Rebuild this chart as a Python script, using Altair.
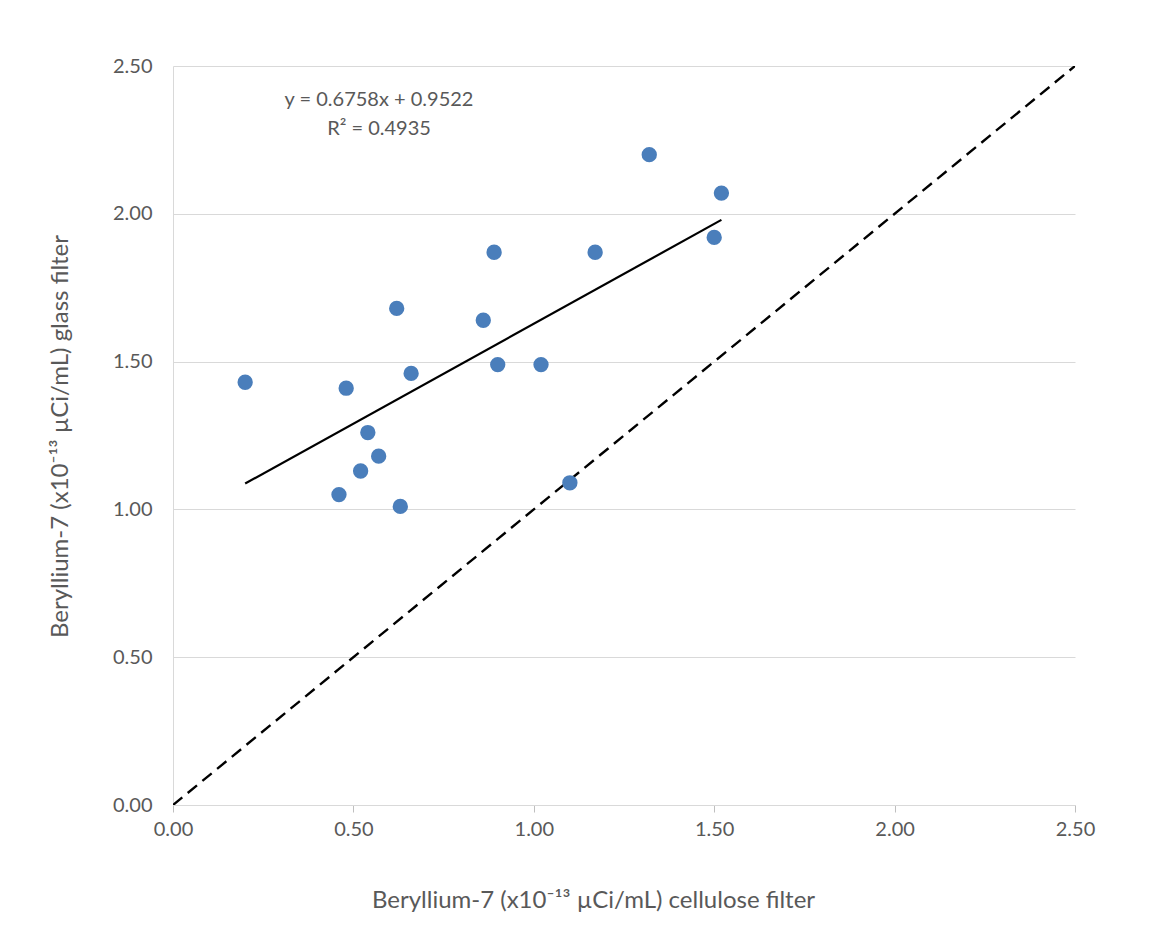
import altair as alt
import pandas as pd

# Scatter data (x10^-13 µCi/mL)
cellulose = [0.20, 0.48, 0.46, 0.52, 0.54, 0.57, 0.62, 0.63, 0.66, 0.86, 0.89, 0.90, 1.02, 1.10, 1.17, 1.32, 1.50, 1.52]
glass     = [1.43, 1.41, 1.05, 1.13, 1.26, 1.18, 1.68, 1.01, 1.46, 1.64, 1.87, 1.49, 1.49, 1.09, 1.87, 2.20, 1.92, 2.07]

slope = 0.6758
intercept = 0.9522
trend_x = [min(cellulose), max(cellulose)]
trend_y = [slope * v + intercept for v in trend_x]

identity_x = [0.0, 2.5]
identity_y = [0.0, 2.5]

eq_lines = ["y = 0.6758x + 0.9522", "R² = 0.4935"]
eq_x = [0.571, 0.571]
eq_y = [2.385, 2.287]

ticks = [0.0, 0.5, 1.0, 1.5, 2.0, 2.5]

pts = pd.DataFrame({"x": cellulose, "y": glass})
trend = pd.DataFrame({"x": trend_x, "y": trend_y})
ident = pd.DataFrame({"x": identity_x, "y": identity_y})
eq = pd.DataFrame({"x": eq_x, "y": eq_y, "t": eq_lines})

FONT = "Lato"
GRAY = "#595959"

xscale = alt.Scale(domain=[0, 2.5], nice=False, zero=True)
yscale = alt.Scale(domain=[0, 2.5], nice=False, zero=True)

xaxis = alt.Axis(
    values=ticks, format=".2f", grid=False, labelFlush=False,
    title="Beryllium-7 (x10⁻¹³ µCi/mL) cellulose filter",
    titleX=420, titleY=95, titleBaseline="middle", titleAnchor="start", titleAlign="center",
    labelPadding=7, tickSize=7, tickColor="#bfbfbf", domainColor="#d9d9d9",
)
yaxis = alt.Axis(
    values=ticks, format=".2f", grid=True, gridColor="#d9d9d9", labelFlush=False,
    title="Beryllium-7 (x10⁻¹³ µCi/mL) glass filter",
    titleX=-113, titleY=370, titleAlign="center", titleBaseline="middle", titleAngle=270,
    ticks=False, labelPadding=21, domainColor="#d9d9d9",
)

base_x = alt.X("x:Q", scale=xscale, axis=xaxis)
base_y = alt.Y("y:Q", scale=yscale, axis=yaxis)

identity_line = alt.Chart(ident).mark_line(
    color="black", strokeWidth=2.4, strokeDash=[12, 7], clip=True
).encode(x=base_x, y=base_y)

trend_line = alt.Chart(trend).mark_line(color="black", strokeWidth=2.2).encode(
    x=alt.X("x:Q", scale=xscale), y=alt.Y("y:Q", scale=yscale)
)

points = alt.Chart(pts).mark_circle(size=235, color="#4A7EBB", opacity=1).encode(
    x=alt.X("x:Q", scale=xscale), y=alt.Y("y:Q", scale=yscale)
)

labels = alt.Chart(eq).mark_text(
    font=FONT, fontSize=20, color=GRAY, align="center", baseline="middle"
).encode(x=alt.X("x:Q", scale=xscale), y=alt.Y("y:Q", scale=yscale), text="t:N")

chart = alt.layer(identity_line, trend_line, points, labels).properties(
    width=902, height=739,
    autosize=alt.AutoSizeParams(type="none"),
    padding={"left": 165, "top": 58, "right": 84, "bottom": 120},
).configure_view(stroke=None).configure_axis(
    labelFont=FONT, labelFontSize=20, labelColor=GRAY,
    titleFont=FONT, titleFontSize=24, titleColor=GRAY, titleFontWeight="normal",
)

chart.save("out.html", embed_options={"renderer": "svg", "actions": False})
